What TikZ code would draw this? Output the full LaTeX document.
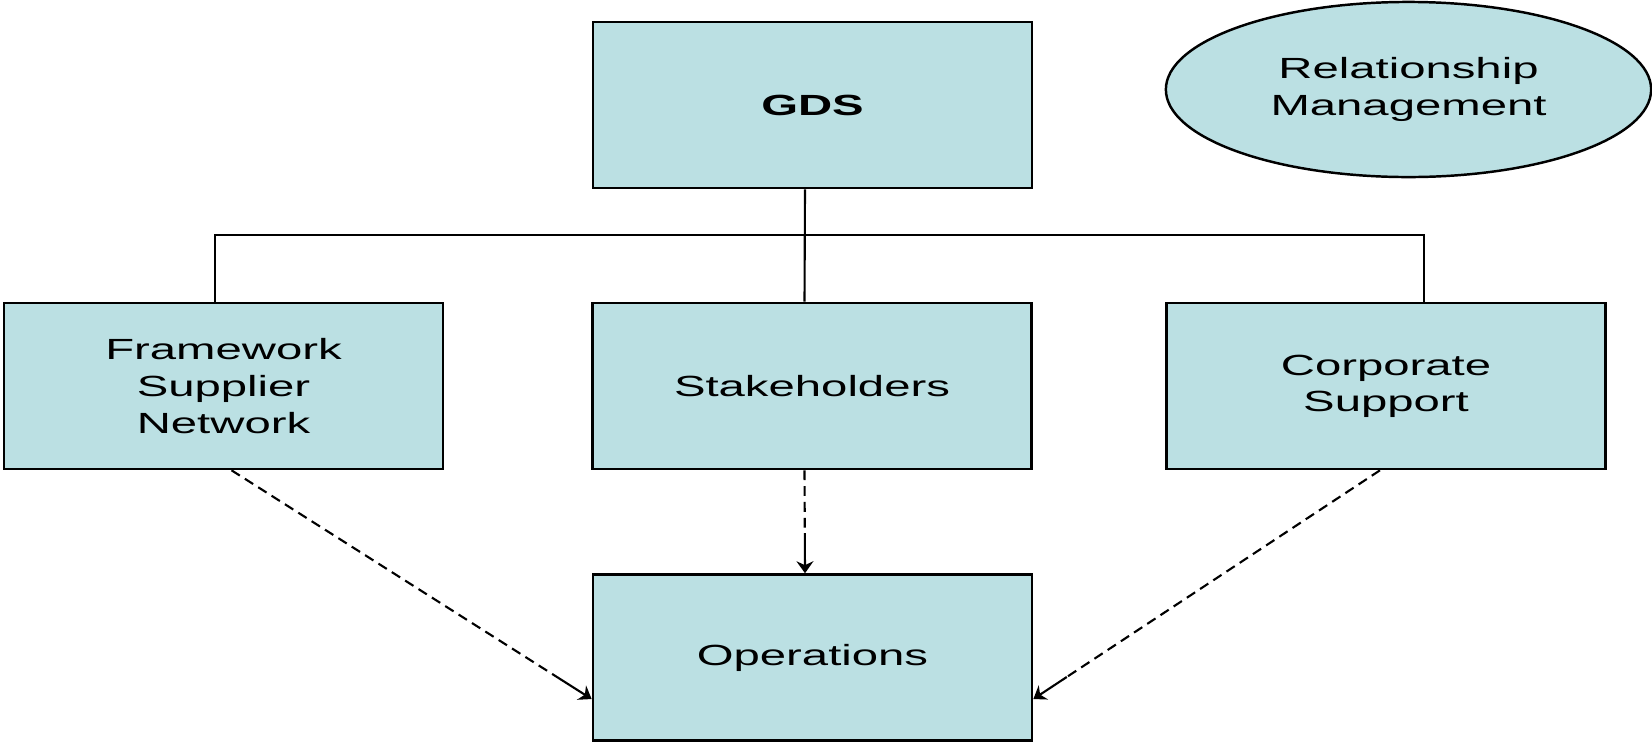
\documentclass[tikz,border=0pt]{standalone}
\usepackage{fontspec}
\setmainfont{Liberation Sans}[FakeStretch=1.62]
\usepackage{tikz}
\usetikzlibrary{shapes,arrows.meta,calc,positioning}
\definecolor{boxfill}{RGB}{187,224,227}

\begin{document}
\begin{tikzpicture}[x=0.01cm,y=-0.01cm]
\tikzstyle{unit}=[draw=black, line width=0.7pt, fill=boxfill, minimum width=4.39cm, minimum height=1.66cm, inner sep=0pt, align=center, font=\fontsize{8.3}{10.4}\selectfont]
\tikzstyle{link}=[black, line width=0.6pt]
\tikzstyle{dashlink}=[link, dash pattern=on 2.8pt off 1.7pt]
\tikzstyle{head}=[link, -{Stealth[length=3.4pt,width=4.8pt]}]
\useasboundingbox (0,0) rectangle (1652,742);
% boxes
\node[unit] (gds) at (812.5,105) {\bfseries GDS};
\node[unit, ellipse, minimum width=4.85cm, minimum height=1.75cm] (rm) at (1408.5,89.5)
  {\raisebox{-0.255cm}[0pt][0pt]{\begin{tabular}[b]{@{}c@{}}Relationship\\Management\end{tabular}}};
\node[unit] (fsn) at (223.5,386) {Framework\\Supplier\\Network};
\node[unit] (stake) at (812,386) {Stakeholders};
\node[unit] (corp) at (1386,386) {\raisebox{-0.03cm}{\begin{tabular}{@{}c@{}}Corporate\\Support\end{tabular}}};
\node[unit] (ops) at (812.5,657.5) {Operations};
% tree lines
\coordinate (bus) at (805,235);
\draw[link] ([xshift=-0.075cm]gds.south) -- ([xshift=-0.075cm]stake.north);
\draw[link] ([xshift=-0.085cm]fsn.north) |- (bus) -| ([xshift=0.38cm]corp.north);
% dashed links into operations
\coordinate (fsnb) at ([xshift=0.08cm]fsn.south);
\coordinate (stakeb) at ([xshift=-0.075cm]stake.south);
\coordinate (corpb) at ([xshift=-0.06cm]corp.south);
\coordinate (opsl) at ([yshift=-0.415cm]ops.west);
\coordinate (opst) at ([xshift=-0.075cm]ops.north);
\coordinate (opsr) at ([yshift=-0.415cm]ops.east);
\foreach \a/\b in {fsnb/opsl, stakeb/opst, corpb/opsr} {
  \draw[dashlink] (\a) -- ($(\b)!0.4cm!(\a)$);
  \draw[head] ($(\b)!0.4cm!(\a)$) -- (\b);
}
\end{tikzpicture}
\end{document}
